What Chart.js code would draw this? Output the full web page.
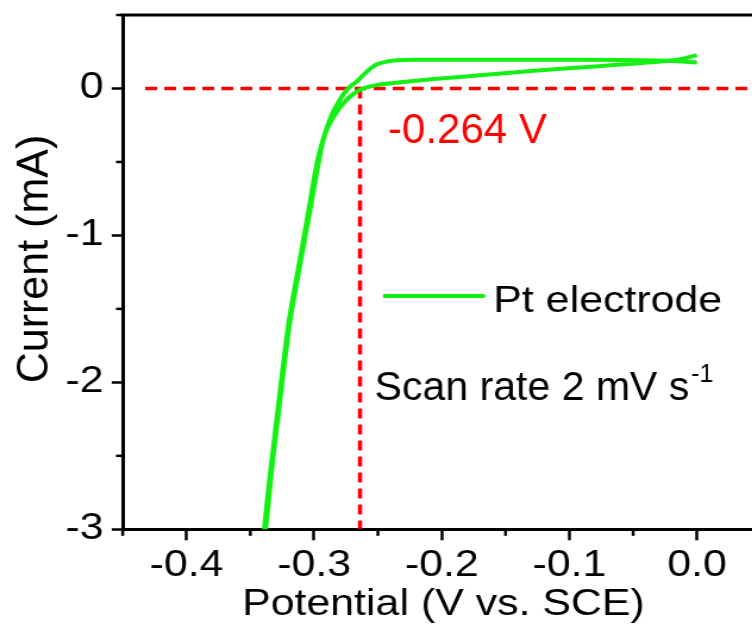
<!DOCTYPE html>
<html>
<head>
<meta charset="utf-8">
<title>LSV Pt</title>
<script src="https://cdn.jsdelivr.net/npm/chart.js@4.4.1/dist/chart.umd.min.js"></script>
<style>
  html, body { margin: 0; padding: 0; background: #fff; overflow: hidden; }
  #wrap { width: 752px; height: 639px; overflow: hidden; }
</style>
</head>
<body>
<div id="wrap"><canvas id="lsv" width="632" height="639"></canvas></div>
<script>
// -----------------------------
//  DATOS
// -----------------------------
// barrido hacia potenciales negativos (desde 0.0 V hasta -3 mA)
const downV = [0.0, -0.012, -0.023, -0.06, -0.12, -0.18, -0.22, -0.2375, -0.2455, -0.2503, -0.256, -0.261, -0.266, -0.2738, -0.280, -0.287, -0.2947, -0.2985, -0.3052, -0.3122, -0.3192, -0.3244, -0.3291, -0.3338, -0.3390];
const downI = [0.177, 0.183, 0.188, 0.194, 0.196, 0.196, 0.195, 0.190, 0.178, 0.166, 0.135, 0.095, 0.052, -0.004, -0.08, -0.197, -0.40, -0.54, -0.876, -1.216, -1.556, -1.895, -2.235, -2.575, -3.0];

// barrido de vuelta (desde -3 mA hasta 0.0 V)
const upV = [-0.3380, -0.3330, -0.3283, -0.3236, -0.3184, -0.3114, -0.3042, -0.2972, -0.2915, -0.2835, -0.2760, -0.2690, -0.2608, -0.2540, -0.2454, -0.2262, -0.2062, -0.17, -0.1276, -0.08, -0.045, -0.023, -0.01, 0.0];
const upI = [-3.0, -2.575, -2.235, -1.895, -1.556, -1.216, -0.876, -0.537, -0.31, -0.174, -0.09, -0.035, 0.003, 0.018, 0.030, 0.048, 0.064, 0.09, 0.120, 0.15, 0.172, 0.188, 0.205, 0.227];

// potencial de inicio marcado con las líneas rojas
const onsetPotential = -0.264;
const zeroLineStart = -0.4324;

// ejes
const xMin = -0.45, xMax = 0.0432;
const yMin = -3, yMax = 0.5;
const xMinorTicks = [-0.45, -0.35, -0.25, -0.15, -0.05];
const yMinorTicks = [0.5, -0.5, -1.5, -2.5];

const seriesLabel = "Pt electrode";
const xTitle = "Potential (V vs. SCE)";
const yTitle = "Current (mA)";
const scanText = "Scan rate 2 mV s";
const scanSup = "-1";

// -----------------------------
//  CONFIGURACIÓN GENERAL
// -----------------------------
const STRETCH = 1.19;          // la figura original está ensanchada en horizontal
const FONT = "'Liberation Sans', Arial, sans-serif";
const GREEN = "#14f014";
const RED = "#ff0000";

const canvas = document.getElementById("lsv");

const loop = downV.map((v, i) => ({ x: v, y: downI[i] }))
    .concat(upV.map((v, i) => ({ x: v, y: upI[i] })));

// texto sin ensanchar (coordenadas de pantalla)
function plainText(ctx, text, x, y, size, color, align) {
    ctx.save();
    ctx.scale(1 / STRETCH, 1);
    ctx.font = `${size}px ${FONT}`;
    ctx.fillStyle = color;
    ctx.textAlign = align || "left";
    ctx.textBaseline = "alphabetic";
    ctx.fillText(text, x, y);
    const w = ctx.measureText(text).width;
    ctx.restore();
    return w;
}

// -----------------------------
//  MARCO, SUBDIVISIONES Y TEXTOS
// -----------------------------
const extras = {
    id: "extras",
    afterDatasetsDraw(chart) {
        const { ctx, chartArea: a, scales: { x, y } } = chart;
        ctx.save();
        ctx.strokeStyle = "#000";

        // línea superior del marco
        ctx.lineWidth = 3;
        ctx.beginPath();
        ctx.moveTo(a.left - 1.5, a.top);
        ctx.lineTo(a.right, a.top);
        ctx.stroke();

        // subdivisiones
        ctx.lineWidth = 2.5;
        xMinorTicks.forEach(v => {
            const px = x.getPixelForValue(v);
            ctx.beginPath();
            ctx.moveTo(px, a.bottom);
            ctx.lineTo(px, a.bottom + 6.5);
            ctx.stroke();
        });
        yMinorTicks.forEach(v => {
            const py = y.getPixelForValue(v);
            ctx.beginPath();
            ctx.moveTo(a.left - 5.6, py);
            ctx.lineTo(a.left, py);
            ctx.stroke();
        });

        // leyenda
        const ds = chart.data.datasets[0];
        ctx.strokeStyle = ds.borderColor;
        ctx.lineWidth = 4;
        ctx.beginPath();
        ctx.moveTo(321.8, 296);
        ctx.lineTo(407.6, 296);
        ctx.stroke();
        ctx.fillStyle = "#000";
        ctx.font = `36px ${FONT}`;
        ctx.textAlign = "left";
        ctx.textBaseline = "alphabetic";
        ctx.fillText(ds.label, 414.6, 311.5);

        // título del eje x
        ctx.textAlign = "center";
        ctx.fillText(xTitle, 372.6, 615);
        ctx.restore();

        // título del eje y (girado)
        ctx.save();
        ctx.scale(1 / STRETCH, 1);
        ctx.translate(48, 259);
        ctx.rotate(-Math.PI / 2);
        ctx.font = `43px ${FONT}`;
        ctx.fillStyle = "#000";
        ctx.textAlign = "center";
        ctx.fillText(yTitle, 0, 0);
        ctx.restore();

        // valor del potencial de inicio
        const lx = x.getPixelForValue(onsetPotential) * STRETCH + 28;
        plainText(ctx, `${onsetPotential.toFixed(3)} V`, lx, 143, 42, RED);

        // velocidad de barrido
        const w = plainText(ctx, scanText, 374.7, 400, 41, "#000");
        plainText(ctx, scanSup, 374.7 + w + 2, 382, 25, "#000");
    }
};

// -----------------------------
//  GRÁFICA
// -----------------------------
canvas.style.transform = `scaleX(${STRETCH})`;
canvas.style.transformOrigin = "0 0";

new Chart(canvas, {
    type: "scatter",
    data: {
        datasets: [
            {
                label: seriesLabel,
                data: loop,
                showLine: true,
                borderColor: GREEN,
                borderWidth: 4,
                pointRadius: 0,
                tension: 0.3
            },
            {
                label: "zero",
                data: [{ x: zeroLineStart, y: 0 }, { x: xMax, y: 0 }],
                showLine: true,
                borderColor: RED,
                borderWidth: 3.5,
                borderDash: [10, 6],
                pointRadius: 0
            },
            {
                label: "onset",
                data: [{ x: onsetPotential, y: 0 }, { x: onsetPotential, y: yMin }],
                showLine: true,
                borderColor: RED,
                borderWidth: 3.5,
                borderDash: [10, 6],
                pointRadius: 0
            }
        ]
    },
    options: {
        responsive: false,
        devicePixelRatio: 1,
        animation: false,
        layout: { padding: { top: 15, left: 0, right: 0, bottom: 0 } },
        plugins: { legend: { display: false }, tooltip: { enabled: false } },
        scales: {
            x: {
                type: "linear",
                min: xMin,
                max: xMax,
                afterFit: s => {
                    s.height = 109.7;
                    s.paddingLeft = 0;
                    s.paddingRight = 0;
                },
                border: { display: true, color: "#000", width: 3 },
                grid: { drawOnChartArea: false, drawTicks: true, tickLength: 11, tickWidth: 2.5, tickColor: "#000" },
                ticks: {
                    stepSize: 0.1,
                    includeBounds: false,
                    autoSkip: false,
                    maxRotation: 0,
                    padding: 4,
                    color: "#000",
                    font: { family: FONT, size: 36 },
                    callback: v => v.toFixed(1)
                }
            },
            y: {
                type: "linear",
                min: yMin,
                max: yMax,
                afterFit: s => {
                    s.width = 103.1;
                    s.paddingTop = 0;
                    s.paddingBottom = 0;
                },
                border: { display: true, color: "#000", width: 3 },
                grid: { drawOnChartArea: false, drawTicks: true, tickLength: 9.2, tickWidth: 2.5, tickColor: "#000" },
                ticks: {
                    stepSize: 1,
                    includeBounds: false,
                    autoSkip: false,
                    padding: 7,
                    color: "#000",
                    font: { family: FONT, size: 36 },
                    callback: v => String(v)
                }
            }
        }
    },
    plugins: [extras]
});
</script>
</body>
</html>
